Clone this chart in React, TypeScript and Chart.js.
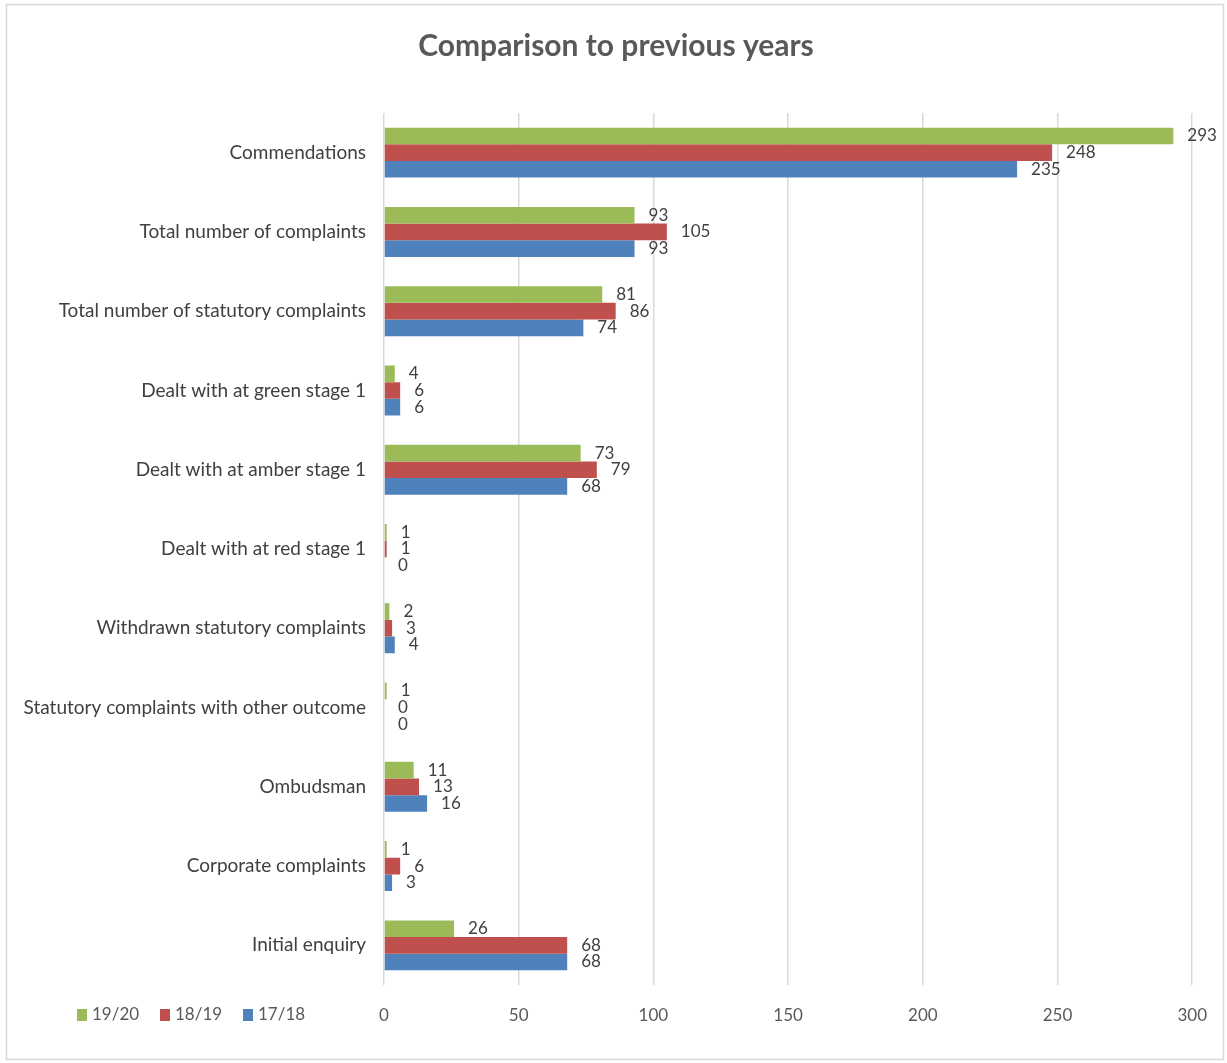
import React, { useEffect, useRef } from "react";
import { Chart, registerables } from "chart.js";

Chart.register(...registerables);

const titleText = "Comparison to previous years";
const categories = [
  "Commendations",
  "Total number of complaints",
  "Total number of statutory complaints",
  "Dealt with at green stage 1",
  "Dealt with at amber stage 1",
  "Dealt with at red stage 1",
  "Withdrawn statutory complaints",
  "Statutory complaints with other outcome",
  "Ombudsman",
  "Corporate complaints",
  "Initial enquiry",
];
const seriesLabels = ["19/20", "18/19", "17/18"];
const values1920 = [293, 93, 81, 4, 73, 1, 2, 1, 11, 1, 26];
const values1819 = [248, 105, 86, 6, 79, 1, 3, 0, 13, 6, 68];
const values1718 = [235, 93, 74, 6, 68, 0, 4, 0, 16, 3, 68];
const seriesColors = ["#9BBB59", "#C0504D", "#4F81BD"];
const xMin = 0;
const xMax = 300;
const xStep = 50;

const FONT = "Lato, 'Open Sans', sans-serif";
const TEXT = "#595959";

const W = 1227;
const H = 1063;

const decorPlugin = {
  id: "decor",
  beforeDraw(chart: any) {
    const ctx = chart.ctx;
    ctx.save();
    ctx.fillStyle = "#ffffff";
    ctx.fillRect(0, 0, chart.width, chart.height);
    ctx.strokeStyle = "#D9D9D9";
    ctx.lineWidth = 1.5;
    ctx.strokeRect(6.5, 4.5, chart.width - 10, chart.height - 8);
    ctx.restore();
  },
  afterDatasetsDraw(chart: any) {
    const ctx = chart.ctx;
    ctx.save();
    ctx.font = `17px ${FONT}`;
    ctx.fillStyle = "#404040";
    ctx.textBaseline = "middle";
    ctx.textAlign = "left";
    chart.data.datasets.forEach((ds: any, di: number) => {
      const meta = chart.getDatasetMeta(di);
      meta.data.forEach((bar: any, i: number) => {
        ctx.fillText(String(ds.data[i]), bar.x + 14, bar.y);
      });
    });
    ctx.restore();
  },
  afterDraw(chart: any) {
    const ctx = chart.ctx;
    ctx.save();
    // title
    ctx.font = `bold 30px ${FONT}`;
    ctx.fillStyle = TEXT;
    ctx.textAlign = "center";
    ctx.textBaseline = "middle";
    ctx.fillText(titleText, 616, 46);
    // legend
    ctx.font = `17px ${FONT}`;
    ctx.textAlign = "left";
    const y = 1015;
    let x = 77;
    chart.data.datasets.forEach((ds: any) => {
      ctx.fillStyle = ds.backgroundColor;
      ctx.fillRect(x, y - 6, 10, 12);
      ctx.fillStyle = TEXT;
      ctx.fillText(ds.label, x + 15, y);
      x += 83;
    });
    ctx.restore();
  },
};

export default function App() {
  const ref = useRef<HTMLCanvasElement>(null);
  useEffect(() => {
    if (!ref.current) return;
    const chart = new Chart(ref.current, {
      type: "bar",
      data: {
        labels: categories,
        datasets: [
          { label: seriesLabels[0], data: values1920, backgroundColor: seriesColors[0] },
          { label: seriesLabels[1], data: values1819, backgroundColor: seriesColors[1] },
          { label: seriesLabels[2], data: values1718, backgroundColor: seriesColors[2] },
        ],
      },
      options: {
        indexAxis: "y",
        responsive: false,
        animation: false,
        maintainAspectRatio: false,
        datasets: { bar: { categoryPercentage: 0.63, barPercentage: 1.0 } },
        layout: { padding: { left: 0, right: 32, top: 113, bottom: 0 } },
        plugins: {
          legend: { display: false },
          tooltip: { enabled: false },
          title: { display: false },
        },
        scales: {
          x: {
            min: xMin,
            max: xMax,
            ticks: { stepSize: xStep, color: TEXT, font: { family: FONT, size: 17 }, padding: 20 },
            grid: { color: "#D9D9D9", lineWidth: 1.5, drawTicks: false },
            border: { display: false },
            afterFit(scale: any) {
              scale.height = 78;
            },
          },
          y: {
            ticks: { color: "#404040", font: { family: FONT, size: 19 }, padding: 18 },
            grid: { display: false, drawTicks: false },
            border: { display: false },
            afterFit(scale: any) {
              scale.width = 384;
            },
          },
        },
      },
      plugins: [decorPlugin],
    } as any);
    return () => chart.destroy();
  }, []);
  return (
    <div style={{ position: "fixed", left: 0, top: 0, width: W, height: H, background: "#fff" }}>
      <canvas ref={ref} width={W} height={H} style={{ width: W, height: H, display: "block" }} />
    </div>
  );
}
